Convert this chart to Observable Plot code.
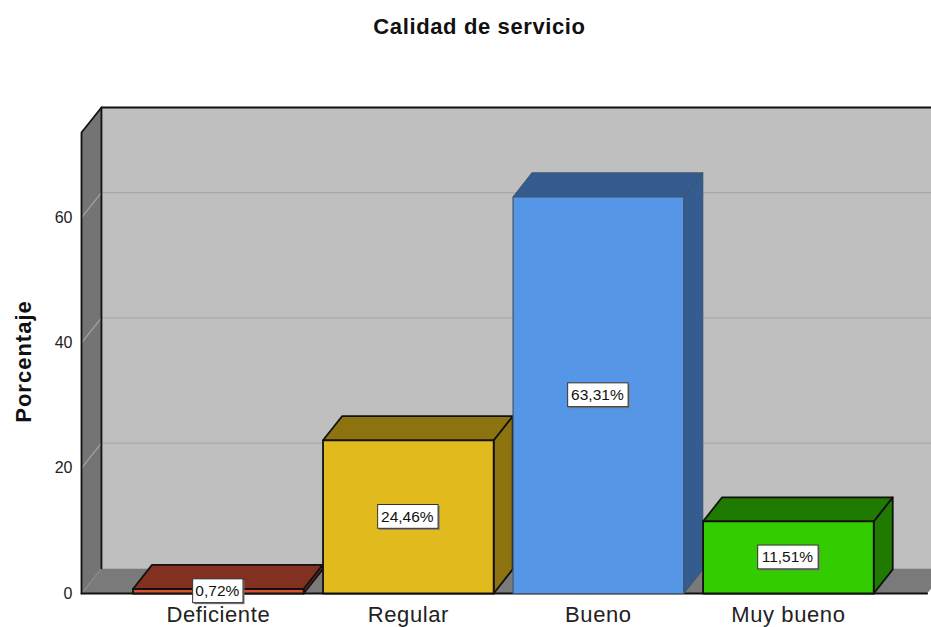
<!DOCTYPE html>
<html><head><meta charset="utf-8">
<script src="https://cdn.jsdelivr.net/npm/d3@7"></script>
<script src="https://cdn.jsdelivr.net/npm/@observablehq/plot@0.6"></script>
<style>
html,body{margin:0;padding:0;background:#fff;overflow:hidden;font-family:"Liberation Sans",Arial,sans-serif}
#title{height:55px;line-height:53px;text-align:center;font-size:22px;font-weight:bold;color:#111;width:959px;letter-spacing:.62px}
g[aria-label="x-axis tick label"]{letter-spacing:.6px}
</style></head><body>
<div id="title">Calidad de servicio</div>
<div id="chart"></div>
<script>
const categories = ["Deficiente","Regular","Bueno","Muy bueno"];
const values = [0.72,24.46,63.31,11.51];
const labels = ["0,72%","24,46%","63,31%","11,51%"];
const yTicks = [0,20,40,60];
const frontColors = ["#d9512f","#e1bb1d","#5596e6","#33cc00"];
const depthColors = ["#823020","#8c7310","#345c8f","#1f7a00"];
const edgeColors = ["#111","#111","#3d5673","#111"];
const edgeWidths = [1.8,1.8,1.2,1.8];

const dX = 0.105, dY = 4.0, half = 0.449, barDX = 0.1, barDY = 3.85;
const xLeft = -0.72, xRight = 3.753, wallTop = 73.6, xOver = 3.73;

function face(pts, fill, stroke, sw){
  const data = [...pts, pts[0]];
  return Plot.line(data,{x:d=>d[0],y:d=>d[1],fill,stroke,strokeWidth:sw,strokeLinejoin:"round",curve:"linear"});
}
function seg(pts, stroke, sw){
  return Plot.line(pts,{x:d=>d[0],y:d=>d[1],stroke,strokeWidth:sw,curve:"linear"});
}
const marks = [];
// back wall, side wall, floor
marks.push(face([[xLeft+dX,dY],[xOver+dX,dY],[xOver+dX,wallTop+dY],[xLeft+dX,wallTop+dY]],"#bfbfbf","none",0));
marks.push(face([[xLeft,0],[xLeft+dX,dY],[xLeft+dX,wallTop+dY],[xLeft,wallTop]],"#747474","none",0));
marks.push(face([[xLeft,0],[xLeft+dX,dY],[xOver+dX,dY],[xOver,0]],"#7a7a7a","none",0));
for (const t of yTicks.slice(1)) {
  marks.push(seg([[xLeft,t],[xLeft+dX,t+dY]],"#a3a3a3",1.2));
  marks.push(seg([[xLeft+dX,t+dY],[xOver+dX,t+dY]],"#a9a9a9",1.2));
}
marks.push(seg([[xLeft,0],[xLeft,wallTop],[xLeft+dX,wallTop+dY],[xOver+dX,wallTop+dY]],"#111",1.8));
marks.push(seg([[xLeft+dX,dY],[xLeft+dX,wallTop+dY]],"#111",1.8));
marks.push(seg([[xLeft,0],[xOver,0]],"#111",1.8));
// bars
values.forEach((v,i)=>{
  const a=i-half,b=i+half,c=edgeColors[i],w=edgeWidths[i];
  marks.push(face([[b,0],[b+barDX,barDY],[b+barDX,v+barDY],[b,v]],depthColors[i],c,w));
  marks.push(face([[a,v],[a+barDX,v+barDY],[b+barDX,v+barDY],[b,v]],depthColors[i],c,w));
  marks.push(face([[a,0],[b,0],[b,v],[a,v]],frontColors[i],c,w));
});
// value boxes
const rows = values.map((v,i)=>({i,v,label:labels[i]}));
const hw = r => r.label.length*0.0265, hh = 1.9;
const boxCh = {x1:r=>r.i-hw(r),x2:r=>r.i+hw(r),y1:r=>r.v/2-hh,y2:r=>r.v/2+hh};
marks.push(Plot.rect(rows,{...boxCh,fill:"#777",dx:1.5,dy:1.5}));
marks.push(Plot.rect(rows,{...boxCh,fill:"#fff",stroke:"#333",strokeWidth:1}));
marks.push(Plot.text(rows,{x:"i",y:r=>r.v/2,text:"label",fontSize:15.5,fill:"#111",dx:-1}));
// axes
marks.push(Plot.axisY({ticks:yTicks,tickSize:0,tickPadding:9,label:null,fontSize:16,color:"#222"}));
marks.push(Plot.axisX({ticks:[0,1,2,3],tickFormat:i=>categories[i],tickSize:0,tickPadding:12.5,label:null,fontSize:22,color:"#222"}));
marks.push(Plot.text(["Porcentaje"],{frameAnchor:"left",textAnchor:"middle",dx:-58,dy:11,rotate:-90,fontSize:22,fontWeight:"bold",fill:"#111",
  render:(index,scales,values,dims,ctx,next)=>{const g=next(index,scales,values,dims,ctx);g.style.letterSpacing="1px";return g;}}));

const plot = Plot.plot({
  width:931,height:572,
  marginTop:52,marginBottom:34,marginLeft:81,marginRight:0,
  x:{domain:[xLeft,xRight],axis:null},
  y:{domain:[0,wallTop+dY],axis:null},
  style:{fontFamily:'"Liberation Sans",Arial,sans-serif',background:"#fff"},
  marks
});
document.getElementById("chart").appendChild(plot);
</script>
</body></html>
